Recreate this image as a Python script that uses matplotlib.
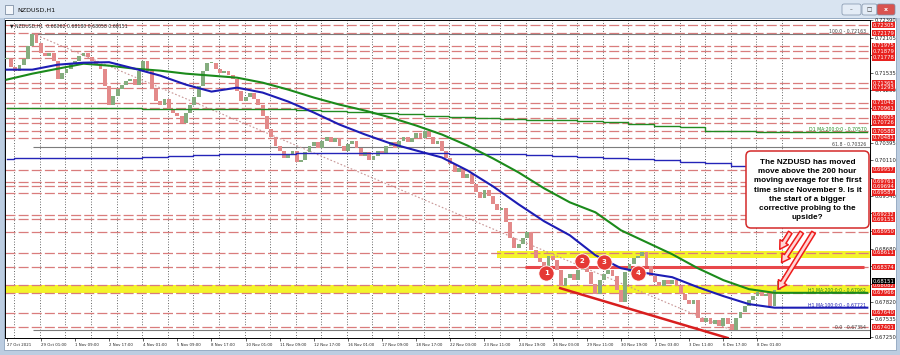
import matplotlib
matplotlib.use("Agg")
import matplotlib.pyplot as plt
import matplotlib.transforms as mtransforms
from matplotlib.patches import Rectangle, FancyBboxPatch, FancyArrowPatch

W, H = 900, 355

# H1 closes sampled every 4 bars, first bar = 27 Oct 2021 17:00
CANDLE_STEP = 4
closes = [
    0.71762, 0.71632, 0.71568, 0.71665, 0.71762, 0.71972, 0.72160, 0.72021, 0.71859, 0.71811,
    0.71859, 0.71730, 0.71438, 0.71535, 0.71600, 0.71681, 0.71730, 0.71811, 0.71859, 0.71794,
    0.71730, 0.71665, 0.71600, 0.71325, 0.71017, 0.71163, 0.71276, 0.71341, 0.71406, 0.71438,
    0.71341, 0.71568, 0.71730, 0.71568, 0.71276, 0.71082, 0.71017, 0.71114, 0.70952, 0.70888,
    0.70839, 0.70726, 0.70888, 0.71017, 0.71147, 0.71325, 0.71568, 0.71697, 0.71697, 0.71600,
    0.71535, 0.71568, 0.71503, 0.71438, 0.71244, 0.71082, 0.71147, 0.71212, 0.71114, 0.71017,
    0.70839, 0.70629, 0.70499, 0.70353, 0.70272, 0.70143, 0.70208, 0.70272, 0.70078, 0.70111,
    0.70240, 0.70337, 0.70402, 0.70305, 0.70434, 0.70499, 0.70402, 0.70467, 0.70337, 0.70272,
    0.70370, 0.70434, 0.70305, 0.70175, 0.70240, 0.70111, 0.70175, 0.70272, 0.70208, 0.70337,
    0.70402, 0.70305, 0.70434, 0.70499, 0.70402, 0.70467, 0.70564, 0.70467, 0.70596, 0.70499,
    0.70370, 0.70434, 0.70272, 0.70143, 0.70046, 0.69916, 0.69981, 0.69819, 0.69884, 0.69722,
    0.69593, 0.69495, 0.69625, 0.69528, 0.69398, 0.69301, 0.69333, 0.69107, 0.68848, 0.68686,
    0.68751, 0.68848, 0.68945, 0.68653, 0.68524, 0.68459, 0.68394, 0.68556, 0.68492, 0.68330,
    0.68071, 0.68200, 0.68265, 0.68168, 0.68330, 0.68427, 0.68297, 0.68103, 0.67941, 0.68168,
    0.68265, 0.68330, 0.68233, 0.68006, 0.67812, 0.68297, 0.68427, 0.68524, 0.68556, 0.68621,
    0.68394, 0.68233, 0.68135, 0.68071, 0.68168, 0.68103, 0.68168, 0.68071, 0.67941, 0.67844,
    0.67779, 0.67844, 0.67553, 0.67488, 0.67553, 0.67455, 0.67520, 0.67423, 0.67553, 0.67455,
    0.67360, 0.67553, 0.67650, 0.67747, 0.67844, 0.67909, 0.67974, 0.67909, 0.67941, 0.67747,
    0.68006, 0.68151,
]

# hourly moving averages read every 24 bars
ma_bars = [0, 24, 48, 72, 96, 120, 144, 168, 192, 216, 240, 264, 288, 312, 336, 360,
           384, 408, 432, 456, 480, 504, 528, 552, 576, 600, 624, 648, 672, 696, 720, 724]
ma100 = [0.71584, 0.71584, 0.71665, 0.71697, 0.71705, 0.71600, 0.71487, 0.71341, 0.71228, 0.71292,
         0.71212, 0.71066, 0.70888, 0.70693, 0.70532, 0.70386, 0.70272, 0.70159, 0.69949, 0.69690,
         0.69398, 0.69123, 0.68896, 0.68573, 0.68362, 0.68281, 0.68216, 0.68054, 0.67909, 0.67779,
         0.67721, 0.67721]
ma200 = [0.71422, 0.71519, 0.71600, 0.71681, 0.71649, 0.71600, 0.71568, 0.71519, 0.71487, 0.71454,
         0.71373, 0.71260, 0.71131, 0.71017, 0.70920, 0.70807, 0.70677, 0.70532, 0.70353, 0.70143,
         0.69916, 0.69657, 0.69431, 0.69269, 0.68977, 0.68783, 0.68589, 0.68362, 0.68168, 0.68022,
         0.67962, 0.67962]

# daily moving averages (one step per day)
day_bars = [0, 7, 31, 55, 79, 103, 127, 151, 175, 199, 223, 247, 271, 295, 319, 343,
            367, 391, 415, 439, 463, 487, 511, 535, 559, 583, 607, 631, 655, 679, 703, 727]
d1_ma200 = [0.70965, 0.70962, 0.70960, 0.70958, 0.70956, 0.70954, 0.70952, 0.70950, 0.70948, 0.70946,
            0.70943, 0.70940, 0.70928, 0.70912, 0.70895, 0.70876, 0.70858, 0.70840, 0.70822, 0.70805,
            0.70790, 0.70775, 0.70760, 0.70745, 0.70731, 0.70705, 0.70677, 0.70650, 0.70596, 0.70596,
            0.70570, 0.70570]
d1_ma100 = [0.70140, 0.70143, 0.70143, 0.70143, 0.70146, 0.70155, 0.70165, 0.70185, 0.70200, 0.70215,
            0.70220, 0.70222, 0.70224, 0.70225, 0.70226, 0.70226, 0.70225, 0.70224, 0.70222, 0.70218,
            0.70210, 0.70198, 0.70180, 0.70160, 0.70143, 0.70127, 0.70111, 0.70083, 0.70062, 0.70013,
            0.70000, 0.69990]

red_levels = [0.72305, 0.72179, 0.71975, 0.71879, 0.71778, 0.71365, 0.71293, 0.71043, 0.70961,
              0.70805, 0.70726, 0.70588, 0.70481, 0.69957, 0.69761, 0.69694, 0.69587, 0.69232,
              0.69153, 0.68950, 0.68611, 0.68374, 0.68082, 0.67966, 0.67640, 0.67401]
axis_levels = [0.72390, 0.72105, 0.71820, 0.71535, 0.71250, 0.70965, 0.70680, 0.70395, 0.70110,
               0.69825, 0.69540, 0.69255, 0.68965, 0.68680, 0.68395, 0.68110, 0.67820, 0.67535,
               0.67250]
# price scale labels left visible (the others sit under the red level tags)
axis_labels = ["0.72390", "0.72105", "", "0.71535", "0.71250", "", "", "0.70395", "0.70110",
               "", "0.69540", "", "", "0.68680", "", "", "0.67820", "0.67535", "0.67250"]
current_price = 0.68151

date_labels = ["27 Oct 2021", "29 Oct 01:00", "1 Nov 09:00", "2 Nov 17:00", "4 Nov 01:00",
               "5 Nov 09:00", "8 Nov 17:00", "10 Nov 01:00", "11 Nov 09:00", "12 Nov 17:00",
               "16 Nov 01:00", "17 Nov 09:00", "18 Nov 17:00", "22 Nov 03:00", "23 Nov 11:00",
               "24 Nov 19:00", "26 Nov 03:00", "29 Nov 11:00", "30 Nov 19:00", "2 Dec 03:00",
               "3 Dec 11:00", "6 Dec 17:00", "8 Dec 01:00"]
DATE_STEP = 32

fib_levels = [0.72163, 0.70326, 0.67354]
fib_names = ["100.0", "61.8", "0.0"]
fib_start = 25
trend_bars = [25, 680]
trend_prices = [0.72163, 0.67354]
channel_bars = [519, 676]
channel_prices = [0.68038, 0.67229]

circle_bars = [506, 539, 560, 592]
circle_prices = [0.68276, 0.68480, 0.68464, 0.68276]

zone_low = (0.67962, 0.68087)
zone_high = (0.68535, 0.68642)
zone_high_start = 460
resistance = 0.68374
resistance_start = 486

callout = ("The NZDUSD has moved\nmove above the 200 hour\nmoving average for the first\n"
           "time since November 9. Is it\nthe start of a bigger\ncorrective probing to the\nupside?")

XMIN, XMAX = -1.6, 809.5
YMIN, YMAX = 0.67229, 0.72377
RED = "#e8221f"

fig = plt.figure(figsize=(W / 100, H / 100), dpi=100, facecolor="#bccde1")
# pixel transform: x from left, y from top
PX = mtransforms.Affine2D().scale(1.0 / W, -1.0 / H).translate(0, 1) + fig.transFigure

# window frame (behind the chart axes)
fig.patches.append(Rectangle((0, 0), W, 18, transform=PX, fc="#d9e4f1", ec="none", zorder=-2))
fig.patches.append(Rectangle((4, 18), 892, 332, transform=PX, fc="white", ec="#8ea4bd", lw=0.6,
                             zorder=-1))
fig.patches.append(Rectangle((5, 5), 8, 9, transform=PX, fc="#f4f7fb", ec="#6d7f96", lw=0.5))
fig.text(17, 10, "NZDUSD,H1", transform=PX, fontsize=4.6, va="center", color="#111111")
for x0, w, fc in [(842, 19, "#e4ecf6"), (862, 15, "#e4ecf6"), (877, 18, "#d9534f")]:
    fig.patches.append(FancyBboxPatch((x0, 4), w, 11, boxstyle="round,pad=0,rounding_size=2",
                                      transform=PX, fc=fc, ec="#7d90a8", lw=0.5))
fig.text(851.5, 9.5, "–", transform=PX, fontsize=4, ha="center", va="center", color="#333333")
fig.text(869.5, 9.5, "□", transform=PX, fontsize=4, ha="center", va="center", color="#333333")
fig.text(886, 9.5, "x", transform=PX, fontsize=4.5, ha="center", va="center", color="white",
         fontweight="bold")

ax = fig.add_axes([5 / W, 1 - 338 / H, 865 / W, 318 / H])
ax.set_zorder(2)
ax.set_facecolor("white")
ax.set_xlim(XMIN, XMAX)
ax.set_ylim(YMIN, YMAX)
for s in ax.spines.values():
    s.set_color("black")
    s.set_linewidth(0.7)

# day grid
for b in day_bars[1:]:
    ax.axvline(b, color="#333333", lw=0.6, dashes=(1, 2.2), zorder=1)

# zones
ax.axhspan(zone_low[0], zone_low[1], color="#f4f42a", zorder=1.2, lw=0)
ax.fill_between([zone_high_start, XMAX], zone_high[0], zone_high[1], color="#f4f42a",
                zorder=1.2, lw=0)

# horizontal levels
for lvl in red_levels:
    ax.axhline(lvl, color="#d97c7c", lw=0.9, dashes=(8, 2.5), zorder=2)
ax.hlines(resistance, resistance_start, 804, color="#e8474a", lw=2.2, zorder=3)

# fibonacci
for lvl, name in zip(fib_levels, fib_names):
    ax.hlines(lvl, fib_start, XMAX, color="#7c7c7c", lw=0.8, zorder=2.5)
    ax.text(806, lvl, f"{name} - {lvl:.5f}", ha="right", va="bottom", fontsize=3.3,
            color="#444444", zorder=6)
ax.plot(trend_bars, trend_prices, color="#c79595", lw=0.8, dashes=(1.5, 1.8), zorder=2.6)

# candles
opens = closes[:1] + closes[:-1]
xs = [i * CANDLE_STEP for i in range(len(closes))]
bottoms = [min(o, c) for o, c in zip(opens, closes)]
heights = [max(abs(c - o), 0.00005) for o, c in zip(opens, closes)]
colors = ["#85ad7f" if c >= o else "#e38a8a" for o, c in zip(opens, closes)]
ax.bar(xs, heights, bottom=bottoms, width=3.6, color=colors, lw=0, zorder=3)

# daily MAs
ax.step(day_bars + [807], d1_ma200 + [d1_ma200[-1]], where="post", color="#218a21", lw=1.0, zorder=3.5)
ax.step(day_bars + [807], d1_ma100 + [d1_ma100[-1]], where="post", color="#2424b8", lw=1.0, zorder=3.5)
ax.text(806, d1_ma200[-1], "D1 MA:200:0:0 - 0.70570", ha="right", va="bottom", fontsize=3.3,
        color="#218a21", zorder=6)

# hourly MAs
ax.plot(ma_bars + [807], ma200 + [ma200[-1]], color="#1b8a1b", lw=1.5, zorder=4)
ax.plot(ma_bars + [807], ma100 + [ma100[-1]], color="#1c1cb4", lw=1.5, zorder=4)
ax.text(806, ma200[-1], "H1 MA:200:0:0 - 0.67962", ha="right", va="bottom", fontsize=3.3,
        color="#1b8a1b", zorder=6)
ax.text(806, ma100[-1], "H1 MA:100:0:0 - 0.67721", ha="right", va="bottom", fontsize=3.3,
        color="#1c1cb4", zorder=6)

# channel line
ax.plot(channel_bars, channel_prices, color="#d81e1e", lw=1.8, zorder=4.5)

# numbered touches
ax.scatter(circle_bars, circle_prices, s=120, c="#e53935", edgecolors="white", linewidths=0.6,
           zorder=6)
for i, (b, p) in enumerate(zip(circle_bars, circle_prices)):
    ax.text(b, p, str(i + 1), color="white", fontsize=5, fontweight="bold", ha="center",
            va="center", zorder=7)

# info line
ax.text(0.006, 0.988, "▼ NZDUSD,H1  0.68062 0.68180 0.68058 0.68151", transform=ax.transAxes,
        fontsize=3.3, va="top", ha="left", color="#222222", zorder=7)

# x axis
ax.set_xticks([i * DATE_STEP for i in range(len(date_labels))])
ax.set_xticklabels(date_labels, ha="left")
ax.tick_params(axis="x", length=2, width=0.5, labelsize=2.8, pad=1.5, colors="#222222")

# y axis (right)
ax.yaxis.tick_right()
ax.set_yticks(axis_levels)
ax.set_yticklabels(axis_labels)
ax.tick_params(axis="y", length=2, width=0.5, labelsize=3.8, pad=1.2, colors="#222222")

blend = mtransforms.blended_transform_factory(ax.transAxes, ax.transData)
for lvl in red_levels:
    ax.text(1.0035, lvl, f"{lvl:.5f}", transform=blend, fontsize=3.8, color="white",
            ha="left", va="center", clip_on=False, zorder=8,
            bbox=dict(boxstyle="square,pad=0.1", fc=RED, ec="none"))
ax.text(1.0035, current_price, f"{current_price:.5f}", transform=blend, fontsize=3.8,
        color="white", ha="left", va="center", clip_on=False, zorder=9,
        bbox=dict(boxstyle="square,pad=0.1", fc="black", ec="none"))

# callout and arrows (pixel coordinates)
fig.patches.append(FancyBboxPatch((746, 151), 123, 77, boxstyle="round,pad=0,rounding_size=5",
                                  transform=PX, fc="white", ec="#d42a2a", lw=1.1, zorder=10))
fig.text(807.5, 190, callout, transform=PX, fontsize=5.9, fontweight="bold",
         family="Liberation Sans", ha="center", va="center", linespacing=1.45,
         color="black", zorder=11)
for (x0, y0), (x1, y1) in [((791.7, 230), (778.3, 251.7)), ((803.3, 230), (780, 265)),
                           ((815, 230), (776.7, 291.7))]:
    fig.patches.append(FancyArrowPatch((x0, y0), (x1, y1), transform=PX,
                                       arrowstyle="simple,head_width=1.4,head_length=1.2,tail_width=0.6",
                                       mutation_scale=5, fc="#ffd6d6", ec="#ee1c1c", lw=1.1, zorder=10))

fig.savefig("out.png", dpi=100, facecolor=fig.get_facecolor())
